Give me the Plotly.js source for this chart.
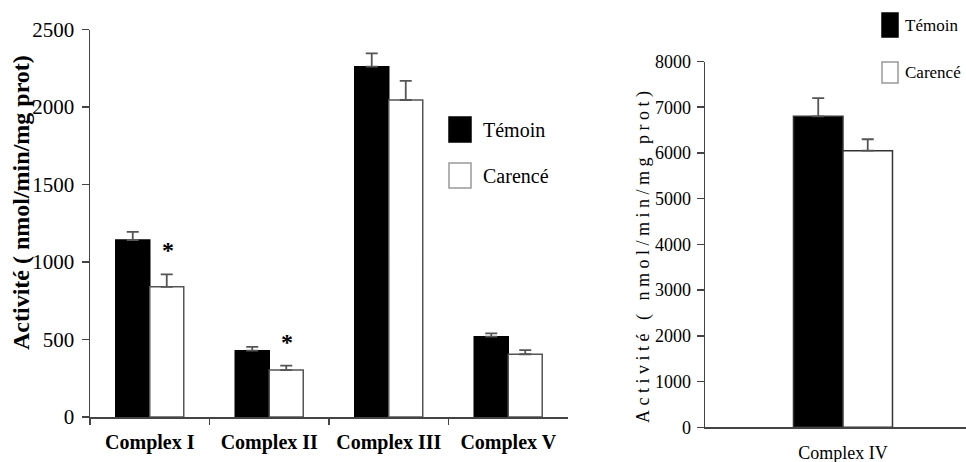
<!DOCTYPE html>
<html>
<head>
<meta charset="utf-8">
<script src="https://cdn.plot.ly/plotly-3.0.1.min.js"></script>
<style>
  html, body { margin: 0; padding: 0; background: #fff; }
  #chart { width: 966px; height: 462px; }
  .annotation[data-index="1"] text { letter-spacing: 4.5px; }
</style>
</head>
<body>
<div id="chart"></div>
<script>
// ---- data ----
const categories = ['Complex I', 'Complex II', 'Complex III', 'Complex V'];
const seriesNames = ['Témoin', 'Carencé'];
const temoin = [1142, 428, 2260, 518];
const temoinErr = [53, 24, 86, 22];
const carence = [840, 303, 2045, 405];
const carenceErr = [80, 28, 123, 27];
const significant = [true, true, false, false];

const categories2 = ['Complex IV'];
const temoin2 = [6800];
const temoin2Err = [400];
const carence2 = [6050];
const carence2Err = [250];

const yTitle = 'Activité ( nmol/min/mg prot)';
const leftTicks = [0, 500, 1000, 1500, 2000, 2500];
const rightTicks = [0, 1000, 2000, 3000, 4000, 5000, 6000, 7000, 8000];

// ---- style ----
const W = 966, H = 462;
const serif = 'Liberation Serif';
const axisCol = '#444';
const errCol = '#555';
const px = (v) => v / W;
const py = (v) => 1 - v / H;

function barTrace(x, y, err, name, fill, lineCol, xa, ya, cap) {
  return {
    type: 'bar', x: x, y: y, name: name, xaxis: xa, yaxis: ya,
    marker: { color: fill, line: { color: lineCol, width: 1.5 } },
    error_y: { type: 'data', array: err, arrayminus: err.map(() => 0), symmetric: false,
               color: errCol, thickness: 1.8, width: cap },
    showlegend: false, hoverinfo: 'skip'
  };
}

const traces = [
  barTrace(categories, temoin, temoinErr, seriesNames[0], '#000', '#000', 'x', 'y', 6),
  barTrace(categories, carence, carenceErr, seriesNames[1], '#fff', '#555', 'x', 'y', 6),
  barTrace(categories2, temoin2, temoin2Err, seriesNames[0], '#000', '#333', 'x2', 'y2', 6),
  barTrace(categories2, carence2, carence2Err, seriesNames[1], '#fff', '#333', 'x2', 'y2', 6)
];

const annotations = [
  { xref: 'paper', yref: 'paper', x: px(21), y: py(203), text: '<b>' + yTitle + '</b>',
    textangle: -90, showarrow: false, xanchor: 'center', yanchor: 'middle',
    font: { family: serif, size: 24, color: '#000' } },
  { xref: 'paper', yref: 'paper', x: px(643), y: py(255), text: yTitle,
    textangle: -90, showarrow: false, xanchor: 'center', yanchor: 'middle',
    font: { family: serif, size: 18, color: '#000' } }
];

// significance stars
categories.forEach((c, i) => {
  if (significant[i]) {
    annotations.push({ xref: 'x', yref: 'y', x: i + 0.15, y: carence[i] + carenceErr[i],
      text: '<b>*</b>', showarrow: false, xanchor: 'center', yanchor: 'middle', yshift: 24,
      font: { family: serif, size: 24, color: '#000' } });
  }
});

// custom legends
const shapes = [];
function legend(x0, x1, rows, fontSize, textX) {
  rows.forEach((r, k) => {
    shapes.push({ type: 'rect', xref: 'paper', yref: 'paper', x0: px(x0), x1: px(x1),
      y0: py(r.y1), y1: py(r.y0), fillcolor: k === 0 ? '#000' : '#fff',
      line: { color: k === 0 ? '#000' : '#999', width: 1.5 } });
    annotations.push({ xref: 'paper', yref: 'paper', x: px(textX), y: py((r.y0 + r.y1) / 2),
      text: seriesNames[k], showarrow: false, xanchor: 'left', yanchor: 'middle',
      font: { family: serif, size: fontSize, color: '#000' } });
  });
}
legend(449, 471, [{ y0: 117, y1: 142 }, { y0: 163, y1: 188 }], 20, 481);
legend(882, 898, [{ y0: 13, y1: 37 }, { y0: 62, y1: 83 }], 17, 903);

const layout = {
  width: W, height: H,
  margin: { l: 0, r: 0, t: 0, b: 0 },
  paper_bgcolor: '#fff', plot_bgcolor: '#fff',
  font: { family: serif, color: '#000' },
  barmode: 'group', bargap: 0.431, bargroupgap: 0,
  showlegend: false,
  xaxis: {
    domain: [px(90), px(568)], anchor: 'y', type: 'category', range: [-0.5, 3.5],
    showline: true, linecolor: axisCol, linewidth: 1.5, showgrid: false, zeroline: false,
    ticks: 'outside', tickson: 'boundaries', ticklen: 6, tickwidth: 1.5, tickcolor: axisCol,
    tickfont: { family: serif, size: 20, color: '#000', weight: 'bold' }, ticklabelstandoff: 6,
    fixedrange: true
  },
  yaxis: {
    domain: [py(417), py(29.5)], anchor: 'x', range: [0, 2500],
    tickvals: leftTicks, ticktext: leftTicks.map(String),
    showline: true, linecolor: axisCol, linewidth: 1.5, showgrid: false, zeroline: false,
    ticks: 'outside', ticklen: 7, tickwidth: 1.5, tickcolor: axisCol,
    tickfont: { family: serif, size: 21, color: '#000' }, ticklabelstandoff: 3,
    fixedrange: true
  },
  xaxis2: {
    domain: [px(705), 1], anchor: 'y2', type: 'category', range: [-0.793, 0.707],
    showline: true, linecolor: axisCol, linewidth: 1.5, showgrid: false, zeroline: false,
    ticks: '', tickfont: { family: serif, size: 18, color: '#000' }, ticklabelstandoff: 9,
    fixedrange: true
  },
  yaxis2: {
    domain: [py(427.3), py(61.5)], anchor: 'x2', range: [0, 8000],
    tickvals: rightTicks, ticktext: rightTicks.map(String),
    showline: true, linecolor: axisCol, linewidth: 1.5, showgrid: false, zeroline: false,
    ticks: 'outside', ticklen: 7, tickwidth: 1.5, tickcolor: axisCol,
    tickfont: { family: serif, size: 18, color: '#000' }, ticklabelstandoff: 2,
    fixedrange: true
  },
  annotations: annotations,
  shapes: shapes
};

Plotly.newPlot('chart', traces, layout, { staticPlot: true, displayModeBar: false });
</script>
</body>
</html>
